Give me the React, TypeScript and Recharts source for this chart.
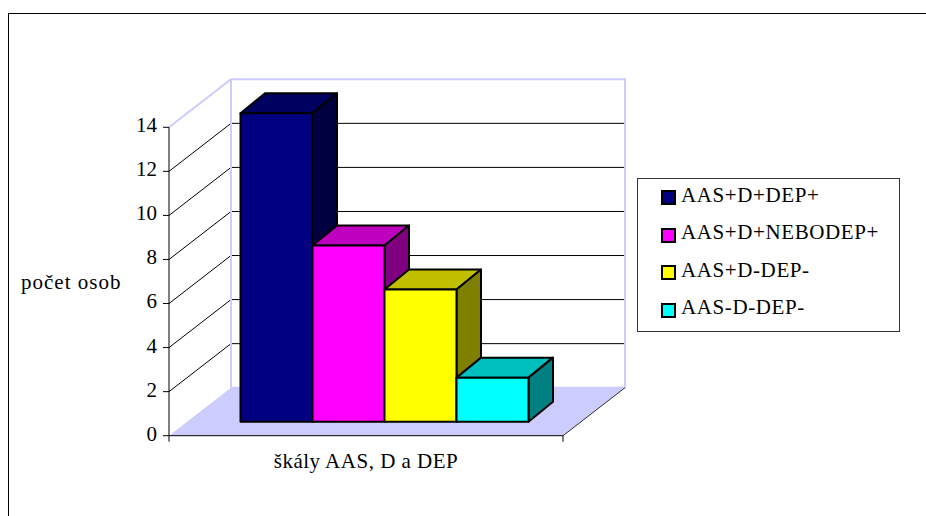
import { BarChart, Bar, XAxis, YAxis, CartesianGrid, Legend, usePlotArea } from "recharts";

const categories = ["škály AAS, D a DEP"];
const seriesNames = ["AAS+D+DEP+", "AAS+D+NEBODEP+", "AAS+D-DEP-", "AAS-D-DEP-"];
const seriesValues = [14, 8, 6, 2];
const seriesColors = ["#000080", "#ff00ff", "#ffff00", "#00ffff"];
const yTicks = [0, 2, 4, 6, 8, 10, 12, 14];

const FONT = '"Liberation Serif", "Times New Roman", serif';
const WALL = "#ccccff";

// oblique offsets of the fake 3D box
const WALL_DX = 62;
const WALL_DY = -48;
const BAR_SHIFT_X = 19;
const BAR_SHIFT_Y = -14;
const BAR_DX = 24.5;
const BAR_DY = -20;

const row: Record<string, string | number> = { name: categories[0] };
seriesNames.forEach((name, i) => {
  row[name] = seriesValues[i];
});
const data = [row];

function shade(hex: string, k: number) {
  const n = parseInt(hex.slice(1), 16);
  const part = (v: number) => Math.round(v * k);
  return `rgb(${part((n >> 16) & 255)},${part((n >> 8) & 255)},${part(n & 255)})`;
}

function Box3D(props: any) {
  const { x, y, width, height, fill } = props;
  const l = x + BAR_SHIFT_X;
  const t = y + BAR_SHIFT_Y;
  const r = l + width;
  const b = t + height;
  return (
    <g stroke="#000" strokeWidth={2} strokeLinejoin="round">
      <path
        d={`M${l},${t}L${l + BAR_DX},${t + BAR_DY}L${r + BAR_DX},${t + BAR_DY}L${r},${t}Z`}
        fill={shade(fill, 0.75)}
      />
      <path
        d={`M${r},${t}L${r + BAR_DX},${t + BAR_DY}L${r + BAR_DX},${b + BAR_DY}L${r},${b}Z`}
        fill={shade(fill, 0.5)}
      />
      <rect x={l} y={t} width={width} height={height} fill={fill} />
    </g>
  );
}

// side wall, back wall and floor behind the grid
function Backdrop() {
  const plot = usePlotArea();
  if (!plot) return null;
  const { x, y, width, height } = plot;
  const r = x + width;
  const b = y + height;
  const dx = WALL_DX;
  const dy = WALL_DY;
  return (
    <g>
      <path
        d={`M${x},${b}L${r},${b}L${r + dx},${b + dy}L${x + dx},${b + dy}Z`}
        fill={WALL}
      />
      <path
        d={`M${x},${y}L${x + dx},${y + dy}L${r + dx},${y + dy}L${r + dx},${b + dy}L${x + dx},${b + dy}L${x + dx},${y + dy}`}
        fill="none"
        stroke={WALL}
        strokeWidth={2}
      />
      <path d={`M${r},${b}L${r + dx},${b + dy}`} stroke="#333" fill="none" />
      <path d={`M${x},${b}v6M${r},${b}v6`} stroke="#000" fill="none" />
    </g>
  );
}

function gridLine(props: any) {
  const { x1, y1, x2, index } = props;
  // the 0 line is the floor and the 14 line is the top edge of the wall
  if (index === 0 || index === yTicks.length - 1) return <g key={index} />;
  return (
    <path
      key={index}
      d={`M${x1},${y1}L${x1 + WALL_DX},${y1 + WALL_DY}L${x2 + WALL_DX},${y1 + WALL_DY}`}
      fill="none"
      stroke="#000"
    />
  );
}

function LegendBox(props: any) {
  const items = props.payload ?? [];
  return (
    <div
      style={{
        width: 263,
        height: 154,
        boxSizing: "border-box",
        border: "1px solid #333",
        background: "#fff",
        position: "relative",
        fontFamily: FONT,
        fontSize: 21,
        letterSpacing: 0.6,
        color: "#000",
      }}
    >
      {items.map((item: any, i: number) => (
        <div
          key={item.value}
          style={{
            position: "absolute",
            left: 23,
            top: 2 + i * 37.5,
            height: 28,
            display: "flex",
            alignItems: "center",
            whiteSpace: "nowrap",
          }}
        >
          <span
            style={{
              width: 15,
              height: 15,
              boxSizing: "border-box",
              border: "2px solid #000",
              background: item.color,
              marginRight: 5,
              marginTop: 5,
            }}
          />
          {item.value}
        </div>
      ))}
    </div>
  );
}

export default function App() {
  return (
    <div
      style={{
        position: "absolute",
        left: 0,
        top: 0,
        width: 926,
        height: 516,
        background: "#fff",
        overflow: "hidden",
      }}
    >
      <div
        style={{
          position: "absolute",
          left: 8,
          top: 13,
          width: 930,
          height: 520,
          borderTop: "1px solid #000",
          borderLeft: "1px solid #000",
        }}
      />
      <BarChart
        width={926}
        height={516}
        data={data}
        barGap={0}
        barCategoryGap={52.5}
        margin={{ top: 127.3, right: 363, bottom: 48.3, left: 21 }}
        style={{ position: "absolute", left: 0, top: 0 }}
      >
        <Backdrop />
        <CartesianGrid vertical={false} horizontal={gridLine} />
        <XAxis
          dataKey="name"
          tick={false}
          tickLine={false}
          height={32}
          axisLine={{ stroke: "#000" }}
          label={{
            value: categories[0],
            position: "insideBottom",
            offset: 0,
            style: { fontFamily: FONT, fontSize: 21, letterSpacing: 0.5, fill: "#000" },
          }}
        />
        <YAxis
          width={148}
          domain={[0, 14]}
          ticks={yTicks}
          interval={0}
          tickSize={6}
          tickMargin={6}
          axisLine={{ stroke: "#000" }}
          tickLine={{ stroke: "#000" }}
          tick={{ fontFamily: FONT, fontSize: 21, fill: "#000", dy: -2.5 }}
          label={{
            value: "počet osob",
            position: "insideLeft",
            offset: 0,
            style: { fontFamily: FONT, fontSize: 21, letterSpacing: 1, fill: "#000" },
          }}
        />
        <Legend
          layout="vertical"
          align="center"
          verticalAlign="middle"
          content={<LegendBox />}
          wrapperStyle={{ left: 637, top: 178, width: 263 }}
        />
        {seriesNames.map((name, i) => (
          <Bar
            key={name}
            dataKey={name}
            fill={seriesColors[i]}
            shape={Box3D}
            isAnimationActive={false}
          />
        ))}
      </BarChart>
    </div>
  );
}
